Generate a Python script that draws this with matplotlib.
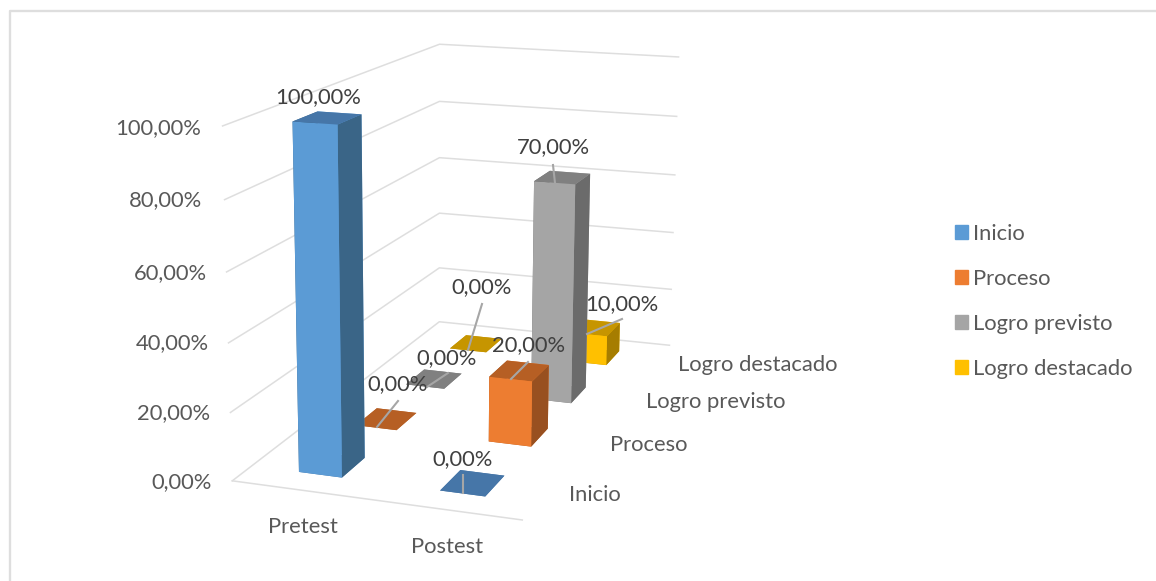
import matplotlib
matplotlib.use("Agg")
import matplotlib.pyplot as plt
from matplotlib.lines import Line2D
from matplotlib.patches import Patch

W, H = 1156, 581

# data
categories = ["Pretest", "Postest"]
series = ["Inicio", "Proceso", "Logro previsto", "Logro destacado"]
pretest = [100, 0, 0, 0]
postest = [0, 20, 70, 10]
yticks = [0, 20, 40, 60, 80, 100]

# colours per series
front = ["#5B9BD5", "#ED7D31", "#A5A5A5", "#FFC000"]
top = ["#4676A8", "#B65F24", "#808080", "#C69500"]
side = ["#3A6587", "#985020", "#6B6B6B", "#A67D00"]
grid_col = "#DEDEDE"
text_col = "#595959"
label_col = "#404040"

elev, azim, roll, focal = 14.086, -71.104, -0.316, 0.518
aspect = (0.845, 1.679, 1.0)
scale, tx, ty = 3663.11, 475.32, 249.99
lim0, lim1 = -0.095, 0.09
bar_w, bar_d = 0.31, 0.40

# label places in pixels
ytick_xy = [(182, 482), (174, 413), (172, 343), (170, 273), (166, 200), (158, 128)]
cat_xy = [(303, 527), (447, 547)]
ser_xy = [(595, 495), (649, 445), (716, 402), (758, 365)]
val_xy = [[(318, 97), (398, 384), (447, 358), (482, 287)],
          [(463, 459), (529, 345), (553, 147), (622, 304)]]
leaders = [[None, (377, 427, 398, 401), (427, 387, 448, 373), (468, 350, 482, 304)],
           [(463, 493, 463, 475), (511, 379, 528, 362), (555, 183, 553, 165), (587, 334, 622, 319)]]

plt.rcParams['font.family'] = ['Lato', 'DejaVu Sans']
fig = plt.figure(figsize=(W / 100, H / 100), dpi=100)


def px(x, y):
    return x / W, 1 - y / H


side_px = scale * (lim1 - lim0)
left = tx + scale * lim0
bottom = H - (ty - scale * lim0)
ax = fig.add_axes([left / W, bottom / H, side_px / W, side_px / H],
                  projection='3d', computed_zorder=False)
ax.set_xlim(0, 2)
ax.set_ylim(0, 4)
ax.set_zlim(0, 100)
ax.view_init(elev=elev, azim=azim, roll=roll)
ax.set_proj_type('persp', focal_length=focal)
ax.set_box_aspect(aspect)
ax.set_axis_off()

# walls and floor
for t in yticks:
    ax.plot([0, 0, 2], [0, 4, 4], [t, t, t], color=grid_col, lw=1.1, zorder=1)
ax.plot([0, 2], [0, 0], [0, 0], color=grid_col, lw=1.1, zorder=1)

# back series first, pretest before postest
z = 2
for j in range(len(series) - 1, -1, -1):
    for i, vals in enumerate([pretest, postest]):
        cols = [top[j], top[j], front[j], front[j], side[j], side[j]]
        ax.bar3d(i + 0.5 - bar_w / 2, j + 0.5 - bar_d / 2, 0, bar_w, bar_d, vals[j],
                 color=cols, shade=False, zorder=z)
        z += 1

fs = 15.8
for t, (x, y) in zip(yticks, ytick_xy):
    fig.text(*px(x, y), f"{t},00%", color=text_col, fontsize=fs, ha='center', va='center')
for name, (x, y) in zip(categories, cat_xy):
    fig.text(*px(x, y), name, color=text_col, fontsize=fs, ha='center', va='center')
for name, (x, y) in zip(series, ser_xy):
    fig.text(*px(x, y), name, color=text_col, fontsize=fs, ha='center', va='center')

for i, vals in enumerate([pretest, postest]):
    for j, v in enumerate(vals):
        if leaders[i][j] is not None:
            x0, y0, x1, y1 = leaders[i][j]
            fig.add_artist(Line2D([x0 / W, x1 / W], [1 - y0 / H, 1 - y1 / H],
                                  color="#A6A6A6", lw=1.5))
        fig.text(*px(*val_xy[i][j]), f"{v},00%", color=label_col, fontsize=fs,
                 ha='center', va='center')

# legend
handles = [Patch(color=c, label=s) for c, s in zip(front, series)]
fig.legend(handles=handles, loc='center left', bbox_to_anchor=(937 / W, 1 - 301.5 / H),
           frameon=False, fontsize=fs, labelcolor=text_col, handlelength=0.6,
           handleheight=0.6, handletextpad=0.23, labelspacing=1.14, borderpad=0.3,
           borderaxespad=0.5)

# outer frame, only top and left show
fig.add_artist(Line2D([9.5 / W, 9.5 / W, 1 / 1], [0, 1 - 10.5 / H, 1 - 10.5 / H],
                      color=grid_col, lw=1.7))

fig.savefig("out.png", dpi=100)
